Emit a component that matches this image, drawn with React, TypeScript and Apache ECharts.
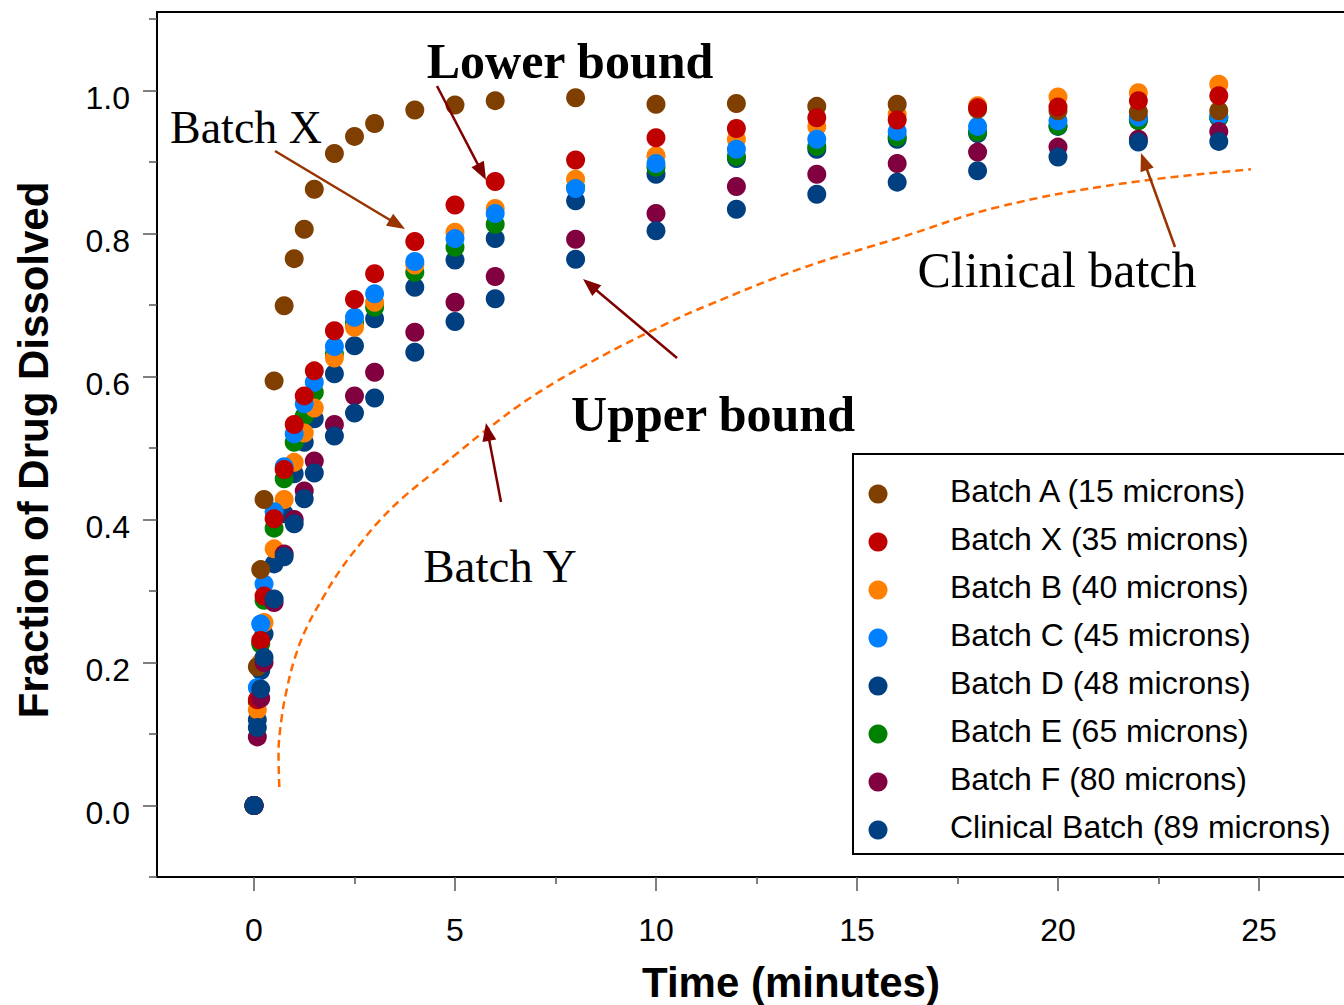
import React, { useEffect, useRef } from "react";
import * as echarts from "echarts";

// ---- data ----
const TIMES = [0, 0.083, 0.167, 0.25, 0.5, 0.75, 1, 1.25, 1.5, 2, 2.5, 3, 4, 5, 6, 8, 10, 12, 14, 16, 18, 20, 22, 24];

const BATCH_A = [0, 0.194, 0.330, 0.428, 0.594, 0.699, 0.765, 0.806, 0.862, 0.912, 0.936, 0.954, 0.973, 0.980, 0.986, 0.990, 0.981, 0.982, 0.978, 0.981, 0.974, 0.972, 0.970, 0.972];
const BATCH_X = [0, 0.148, 0.231, 0.293, 0.401, 0.470, 0.533, 0.573, 0.608, 0.664, 0.708, 0.744, 0.789, 0.840, 0.873, 0.903, 0.934, 0.947, 0.962, 0.959, 0.976, 0.977, 0.986, 0.993];
const BATCH_B = [0, 0.134, 0.200, 0.256, 0.359, 0.428, 0.480, 0.521, 0.556, 0.626, 0.669, 0.704, 0.756, 0.802, 0.835, 0.876, 0.909, 0.932, 0.950, 0.967, 0.979, 0.991, 0.997, 1.009];
const BATCH_C = [0, 0.165, 0.254, 0.310, 0.411, 0.474, 0.520, 0.562, 0.592, 0.642, 0.683, 0.716, 0.761, 0.793, 0.828, 0.863, 0.898, 0.918, 0.932, 0.943, 0.950, 0.958, 0.963, 0.965];
const BATCH_D = [0, 0.120, 0.189, 0.240, 0.338, 0.408, 0.464, 0.508, 0.541, 0.604, 0.643, 0.681, 0.725, 0.763, 0.793, 0.846, 0.883, 0.905, 0.918, 0.932, 0.940, 0.950, 0.960, 0.962];
const BATCH_E = [0, 0.145, 0.226, 0.287, 0.388, 0.457, 0.508, 0.545, 0.578, 0.632, 0.675, 0.697, 0.746, 0.781, 0.813, 0.865, 0.893, 0.908, 0.922, 0.935, 0.942, 0.951, 0.958, 0.962];
const BATCH_F = [0, 0.096, 0.150, 0.200, 0.284, 0.352, 0.400, 0.440, 0.482, 0.533, 0.573, 0.606, 0.662, 0.704, 0.740, 0.792, 0.828, 0.866, 0.883, 0.898, 0.914, 0.921, 0.932, 0.943];
const CLINICAL = [0, 0.109, 0.163, 0.207, 0.289, 0.348, 0.394, 0.429, 0.465, 0.517, 0.549, 0.570, 0.634, 0.677, 0.709, 0.764, 0.804, 0.834, 0.855, 0.872, 0.888, 0.907, 0.928, 0.929];

// Batch Y dashed curve
const BATCH_Y_T = [0.63, 0.61, 0.68, 0.81, 1.02, 1.31, 1.72, 2.14, 2.64, 3.13, 3.71, 4.38, 5.04, 5.70, 7.0, 8.7, 10.3, 11.3, 13.6, 16.1, 18.5, 21.6, 24.8];
const BATCH_Y_V = [0.026, 0.072, 0.119, 0.161, 0.207, 0.249, 0.291, 0.329, 0.366, 0.399, 0.431, 0.462, 0.492, 0.522, 0.575, 0.630, 0.675, 0.700, 0.751, 0.795, 0.837, 0.870, 0.890];

const X_TICKS = [0, 5, 10, 15, 20, 25];
const X_MINOR = [2.5, 7.5, 12.5, 17.5, 22.5];
const Y_TICKS = [0, 0.2, 0.4, 0.6, 0.8, 1.0];
const Y_MINOR = [-0.1, 0.1, 0.3, 0.5, 0.7, 0.9, 1.1];

const LEGEND_NAMES = [
  "Batch A (15 microns)",
  "Batch X (35 microns)",
  "Batch B (40 microns)",
  "Batch C (45 microns)",
  "Batch D (48 microns)",
  "Batch E (65 microns)",
  "Batch F (80 microns)",
  "Clinical Batch (89 microns)",
];

const COLORS: Record<string, string> = {
  A: "#7F3F00",
  X: "#C00000",
  B: "#FF8000",
  C: "#0080FF",
  D: "#004080",
  E: "#008000",
  F: "#800040",
  CL: "#004080",
};

const SANS = '"Liberation Sans", Arial, sans-serif';
const SERIF = '"Liberation Serif", "Times New Roman", serif';

function arrow(x1: number, y1: number, x2: number, y2: number, color: string) {
  const dx = x2 - x1;
  const dy = y2 - y1;
  const len = Math.hypot(dx, dy);
  const ux = dx / len;
  const uy = dy / len;
  const hl = 18;
  const hw = 7;
  const bx = x2 - ux * hl;
  const by = y2 - uy * hl;
  const px = -uy;
  const py = ux;
  return [
    {
      type: "line",
      shape: { x1, y1, x2: bx + ux * 2, y2: by + uy * 2 },
      style: { stroke: color, lineWidth: 2.5 },
      z: 100,
    },
    {
      type: "polygon",
      shape: { points: [[x2, y2], [bx + px * hw, by + py * hw], [bx - px * hw, by - py * hw]] },
      style: { fill: color },
      z: 100,
    },
  ];
}

function txt(text: string, x: number, y: number, font: string, extra: any = {}) {
  return {
    type: "text",
    x,
    y,
    z: 100,
    ...extra,
    style: {
      text,
      x: 0,
      y: 0,
      fill: "#000",
      font,
      textAlign: "center",
      align: "center",
      textVerticalAlign: "middle",
      verticalAlign: "middle",
    },
  };
}

export default function App() {
  const ref = useRef<HTMLDivElement>(null);

  useEffect(() => {
    const chart = echarts.init(ref.current!, null, { renderer: "svg" });

    const pairs = (vals: number[]) => TIMES.map((t, i) => [t, vals[i]]);
    const scatter = (name: string, vals: number[], color: string) => ({
      name,
      type: "scatter",
      data: pairs(vals),
      symbol: "circle",
      symbolSize: 19,
      itemStyle: { color, opacity: 1 },
      xAxisIndex: 0,
      yAxisIndex: 0,
      emphasis: { disabled: true },
    });

    const legendColors = [COLORS.A, COLORS.X, COLORS.B, COLORS.C, COLORS.D, COLORS.E, COLORS.F, COLORS.CL];
    const legendEls: any[] = [
      {
        type: "rect",
        shape: { x: 853, y: 454, width: 520, height: 400 },
        style: { fill: "#fff", stroke: "#000", lineWidth: 2 },
        z: 90,
      },
    ];
    LEGEND_NAMES.forEach((n, i) => {
      legendEls.push({
        type: "circle",
        shape: { cx: 878, cy: 494 + 48 * i, r: 9.5 },
        style: { fill: legendColors[i] },
        z: 91,
      });
      legendEls.push({
        type: "text",
        x: 950,
        y: 491 + 48 * i,
        z: 91,
        style: {
          text: n,
          x: 0,
          y: 0,
          fill: "#000",
          font: `32px ${SANS}`,
          textAlign: "left",
          align: "left",
          textVerticalAlign: "middle",
          verticalAlign: "middle",
        },
      });
    });

    const X_MIN = -2.413;
    const X_MAX = 27.115;

    const option: any = {
      animation: false,
      backgroundColor: "#fff",
      grid: {
        left: 157,
        top: 12,
        right: 0,
        bottom: 128,
        show: false,
      },
      xAxis: [
        {
          type: "value",
          min: X_MIN,
          max: X_MAX,
          position: "bottom",
          axisLine: { show: true, onZero: false, lineStyle: { color: "#000", width: 2 } },
          axisTick: { show: true, customValues: X_TICKS, length: 14, lineStyle: { color: "#555", width: 1.5 } },
          axisLabel: {
            show: true,
            customValues: X_TICKS,
            margin: 37,
            color: "#000",
            fontSize: 32,
            fontFamily: SANS,
          },
          splitLine: { show: false },
        },
        {
          type: "value",
          min: X_MIN,
          max: X_MAX,
          position: "bottom",
          axisLine: { show: false, onZero: false },
          axisTick: { show: true, customValues: X_MINOR, length: 7, lineStyle: { color: "#555", width: 1.5 } },
          axisLabel: { show: false },
          splitLine: { show: false },
        },
        {
          type: "value",
          min: X_MIN,
          max: X_MAX,
          position: "top",
          axisLine: { show: true, onZero: false, lineStyle: { color: "#000", width: 2 } },
          axisTick: { show: false },
          axisLabel: { show: false },
          splitLine: { show: false },
        },
      ],
      yAxis: [
        {
          type: "value",
          min: -0.1,
          max: 1.11,
          position: "left",
          axisLine: { show: true, onZero: false, lineStyle: { color: "#000", width: 2 } },
          axisTick: { show: true, customValues: Y_TICKS, length: 14, lineStyle: { color: "#555", width: 1.5 } },
          axisLabel: {
            show: true,
            customValues: Y_TICKS,
            margin: 27,
            color: "#000",
            fontSize: 32,
            fontFamily: SANS,
            verticalAlign: "top",
            lineHeight: 14,
            formatter: (v: number) => v.toFixed(1),
          },
          splitLine: { show: false },
        },
        {
          type: "value",
          min: -0.1,
          max: 1.11,
          position: "left",
          axisLine: { show: false, onZero: false },
          axisTick: { show: true, customValues: Y_MINOR, length: 8, lineStyle: { color: "#555", width: 1.5 } },
          axisLabel: { show: false },
          splitLine: { show: false },
        },
      ],
      series: [
        {
          name: "Batch Y",
          type: "line",
          data: BATCH_Y_T.map((t, i) => [t, BATCH_Y_V[i]]),
          smooth: 0.4,
          showSymbol: false,
          symbol: "none",
          lineStyle: { color: "#FF6A00", width: 2.5, type: [8, 5] },
          xAxisIndex: 0,
          yAxisIndex: 0,
          z: 1,
        },
        scatter("Batch D (48 microns)", BATCH_D, COLORS.D),
        scatter("Batch E (65 microns)", BATCH_E, COLORS.E),
        scatter("Batch B (40 microns)", BATCH_B, COLORS.B),
        scatter("Batch C (45 microns)", BATCH_C, COLORS.C),
        scatter("Batch A (15 microns)", BATCH_A, COLORS.A),
        scatter("Batch X (35 microns)", BATCH_X, COLORS.X),
        scatter("Batch F (80 microns)", BATCH_F, COLORS.F),
        scatter("Clinical Batch (89 microns)", CLINICAL, COLORS.CL),
      ],
      graphic: [
        txt("Fraction of Drug Dissolved", 33, 450, `bold 42px ${SANS}`, { rotation: Math.PI / 2 }),
        txt("Time (minutes)", 791, 982, `bold 42px ${SANS}`),
        txt("Batch X", 246, 127, `46px ${SERIF}`),
        txt("Lower bound", 570, 61, `bold 50px ${SERIF}`),
        txt("Upper bound", 713, 414, `bold 50px ${SERIF}`),
        txt("Batch Y", 500, 566, `47px ${SERIF}`),
        txt("Clinical batch", 1057, 270, `50px ${SERIF}`),
        ...arrow(275, 151, 405, 229, "#993300"),
        ...arrow(437, 86, 486, 180, "#800000"),
        ...arrow(677, 358, 583, 279, "#800000"),
        ...arrow(501, 502, 486, 423, "#800000"),
        ...arrow(1175, 247, 1141, 153, "#993300"),
        ...legendEls,
      ],
    };

    chart.setOption(option);
    return () => chart.dispose();
  }, []);

  return (
    <div
      ref={ref}
      style={{ position: "fixed", left: 0, top: 0, width: 1344, height: 1005, background: "#fff" }}
    />
  );
}
